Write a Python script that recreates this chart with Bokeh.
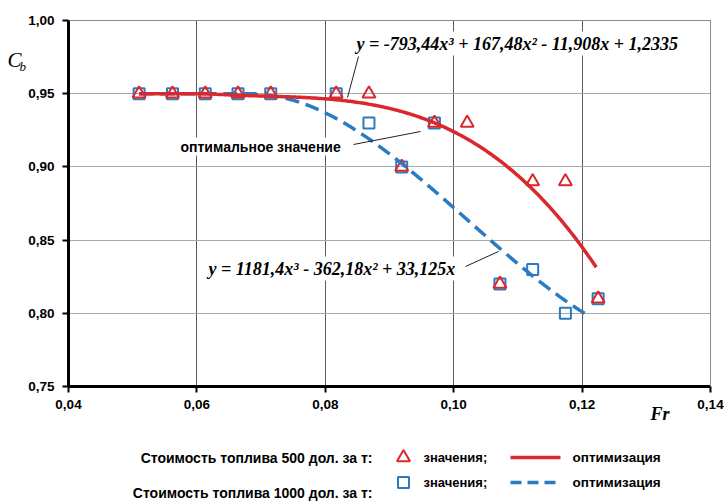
import numpy as np
from bokeh.plotting import figure
from bokeh.models import Range1d, FixedTicker, CustomJSTickFormatter, Label, LinearAxis, Grid
from bokeh.embed import file_html
from bokeh.resources import INLINE

# ---------------- data ----------------
fr_500 = [0.0510, 0.0562, 0.0613, 0.0664, 0.0715, 0.0817, 0.0868, 0.0919, 0.0970, 0.1021, 0.1072, 0.1123, 0.1174, 0.1225]
cb_500 = [0.95, 0.95, 0.95, 0.95, 0.95, 0.95, 0.95, 0.90, 0.93, 0.93, 0.82, 0.89, 0.89, 0.81]
fr_1000 = [0.0510, 0.0562, 0.0613, 0.0664, 0.0715, 0.0817, 0.0868, 0.0919, 0.0970, 0.1072, 0.1123, 0.1174, 0.1225]
cb_1000 = [0.95, 0.95, 0.95, 0.95, 0.95, 0.95, 0.93, 0.90, 0.93, 0.82, 0.83, 0.80, 0.81]

# fitted optimisation curves (coefficients as printed on the chart)
coef_500 = [-793.44, 167.48, -11.908, 1.2335]
coef_1000 = [1181.4, -362.18, 33.125, 0.0]
cb_cap = 0.95
fr_start = 0.051
fr_end_500 = 0.1222
fr_end_1000 = 0.1212
flat_end_1000 = 0.0691

eq_500 = "y = -793,44x³ + 167,48x² - 11,908x + 1,2335"
eq_1000 = "y = 1181,4x³ - 362,18x² + 33,125x"
note_text = "оптимальное значение"
x_ticks = [0.04, 0.06, 0.08, 0.10, 0.12, 0.14]
y_ticks = [0.75, 0.80, 0.85, 0.90, 0.95, 1.00]
x_lim = (0.04, 0.14)
y_lim = (0.75, 1.00)

leg_cost_500 = "Стоимость топлива 500 дол. за т:"
leg_cost_1000 = "Стоимость топлива 1000 дол. за т:"
leg_values = "значения;"
leg_opt = "оптимизация"

RED = "#d9282e"
BLUE = "#2b7bc1"

# curves from the printed fits
xs500 = np.linspace(fr_start, fr_end_500, 300)
ys500 = np.minimum(cb_cap, np.polyval(coef_500, xs500))
xs1000 = np.linspace(fr_start, fr_end_1000, 300)
ys1000 = np.where(xs1000 <= flat_end_1000, cb_cap, np.polyval(coef_1000, xs1000))

# ---------------- layout helpers (page pixels -> data) ----------------
W, H = 724, 502
PX0, PX1, PY0, PY1 = 68, 710, 20, 386  # plot-area edges in page pixels


def X(px):
    return x_lim[0] + (px - PX0) / (PX1 - PX0) * (x_lim[1] - x_lim[0])


def Y(py):
    return y_lim[1] - (py - PY0) / (PY1 - PY0) * (y_lim[1] - y_lim[0])


p = figure(width=W, height=H, output_backend="svg", toolbar_location=None,
           x_range=Range1d(X(0), X(W)), y_range=Range1d(Y(H), Y(0)),
           x_axis_location=None, y_axis_location=None,
           min_border=0, min_border_left=0, min_border_right=0,
           min_border_top=0, min_border_bottom=0)
p.background_fill_color = "white"
p.border_fill_color = "white"
p.outline_line_color = None
p.xgrid.visible = False
p.ygrid.visible = False

fmt = CustomJSTickFormatter(code="return tick.toFixed(2).replace('.', ',');")


def main_axis(loc, bounds, ticks, standoff):
    ax = LinearAxis(fixed_location=loc, bounds=bounds, ticker=FixedTicker(ticks=ticks),
                    formatter=fmt)
    ax.axis_line_color = "black"
    ax.axis_line_width = 3
    ax.major_tick_line_color = "black"
    ax.major_tick_line_width = 2
    ax.major_tick_out = 6
    ax.major_tick_in = 0
    ax.minor_tick_line_color = None
    ax.major_label_text_font = "Liberation Sans"
    ax.major_label_text_font_style = "bold"
    ax.major_label_text_font_size = "13.5px"
    ax.major_label_text_color = "black"
    ax.major_label_standoff = standoff
    return ax


def border_axis(loc, bounds):
    ax = LinearAxis(fixed_location=loc, bounds=bounds, ticker=FixedTicker(ticks=[]))
    ax.axis_line_color = "#8a8a8a"
    ax.axis_line_width = 1
    ax.major_tick_line_color = None
    ax.minor_tick_line_color = None
    ax.major_label_text_alpha = 0
    return ax


# grid lines limited to the plot area
p.add_layout(Grid(dimension=0, ticker=FixedTicker(ticks=x_ticks), bounds=x_lim,
                  cross_bounds=y_lim, grid_line_color="#5a5a5a", grid_line_width=1))
p.add_layout(Grid(dimension=1, ticker=FixedTicker(ticks=y_ticks), bounds=y_lim,
                  cross_bounds=x_lim, grid_line_color="#a8a8a8", grid_line_width=1.2))

p.add_layout(border_axis(y_lim[1], x_lim), "above")
p.add_layout(border_axis(x_lim[1], y_lim), "right")
p.add_layout(main_axis(x_lim[0], y_lim, y_ticks, 8), "left")
p.add_layout(main_axis(y_lim[0], x_lim, x_ticks, 7), "below")

# markers
p.scatter(fr_1000, cb_1000, marker="square", size=11, fill_color=None,
          line_color=BLUE, line_width=2)
p.scatter(fr_500, cb_500, marker="triangle", size=13, fill_color=None,
          line_color=RED, line_width=2)

# curves
p.line(xs1000, ys1000, line_color=BLUE, line_width=3.5, line_dash="14 7")
p.line(xs500, ys500, line_color=RED, line_width=3.5)

# leader lines
p.segment(x0=[X(358), X(353), X(465)], y0=[Y(56), Y(144), Y(266)],
          x1=[X(347), X(420), X(498)], y1=[Y(97), Y(131), Y(251)],
          line_color="#222222", line_width=1)


def label(px, py, text, font, style, size, align="left", bg=None, pad=0):
    kw = dict(background_fill_color=bg, padding=pad) if bg else {}
    p.add_layout(Label(x=X(px), y=Y(py), text=text, text_font=font,
                       text_font_style=style, text_font_size=size,
                       text_baseline="middle", text_align=align,
                       text_color="black", **kw))


label(354, 43, eq_500, "Liberation Serif", "bold italic", "18px", bg="white", pad=2)
label(206, 268, eq_1000, "Liberation Serif", "bold italic", "18px", bg="white", pad=2)
label(179, 146, note_text, "Liberation Sans", "bold", "14px", bg="white", pad=1)

# axis titles
label(7, 59, "C", "Liberation Serif", "italic", "21px")
label(19, 66, "b", "Liberation Serif", "italic", "13px")
label(650, 413, "Fr", "Liberation Serif", "bold italic", "18px")

# ---------------- legend (below the plot) ----------------
r1, r2, r3 = 457, 482, 492
label(372, r1, leg_cost_500, "Liberation Sans", "bold", "14px", align="right")
label(372, r3, leg_cost_1000, "Liberation Sans", "bold", "14px", align="right")
label(423, r1, leg_values, "Liberation Sans", "bold", "13px")
label(423, r2, leg_values, "Liberation Sans", "bold", "13px")
label(572, r1, leg_opt, "Liberation Sans", "bold", "13.5px")
label(572, r2, leg_opt, "Liberation Sans", "bold", "13.5px")
p.scatter([X(403)], [Y(r1)], marker="triangle", size=13, fill_color=None, line_color=RED, line_width=2)
p.scatter([X(403)], [Y(r2)], marker="square", size=11, fill_color=None, line_color=BLUE, line_width=2)
p.line([X(510), X(560)], [Y(r1), Y(r1)], line_color=RED, line_width=3.5)
p.line([X(510), X(560)], [Y(r2), Y(r2)], line_color=BLUE, line_width=3.5, line_dash="11 6")

open("out.html", "w").write(file_html(p, INLINE))
